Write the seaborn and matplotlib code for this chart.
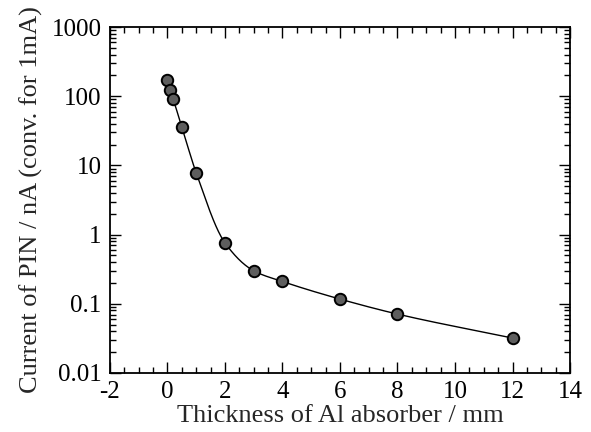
import numpy as np
import pandas as pd
import matplotlib
matplotlib.use('Agg')
import matplotlib.pyplot as plt
import seaborn as sns
from matplotlib.ticker import LogLocator, MultipleLocator, NullFormatter, FixedLocator, FixedFormatter

# data
thickness_mm = [0, 0.1, 0.2, 0.5, 1, 2, 3, 4, 6, 8, 12]
current_nA = [171, 123, 91, 36, 7.8, 0.76, 0.30, 0.21, 0.117, 0.071, 0.032]

y_ticks = [0.01, 0.1, 1, 10, 100, 1000]
y_tick_labels = ['0.01', '0.1', '1', '10', '100', '1000']

df = pd.DataFrame({'x': thickness_mm, 'y': current_nA})


def pchip_log(x, y, n=400):
    """Smooth monotone curve through the points, in log space."""
    x = np.asarray(x, float)
    ly = np.log10(np.asarray(y, float))
    h = np.diff(x)
    d = np.diff(ly) / h
    m = np.zeros_like(ly)
    for k in range(1, len(x) - 1):
        if d[k - 1] * d[k] > 0:
            w1 = 2 * h[k] + h[k - 1]
            w2 = h[k] + 2 * h[k - 1]
            m[k] = (w1 + w2) / (w1 / d[k - 1] + w2 / d[k])
    m[0] = d[0]
    m[-1] = d[-1]
    xs = np.linspace(x[0], x[-1], n)
    idx = np.clip(np.searchsorted(x, xs) - 1, 0, len(x) - 2)
    t = (xs - x[idx]) / h[idx]
    h00 = 2 * t**3 - 3 * t**2 + 1
    h10 = t**3 - 2 * t**2 + t
    h01 = -2 * t**3 + 3 * t**2
    h11 = t**3 - t**2
    ys = h00 * ly[idx] + h10 * h[idx] * m[idx] + h01 * ly[idx + 1] + h11 * h[idx] * m[idx + 1]
    return xs, 10 ** ys


sns.set_style('ticks')
plt.rcParams['font.family'] = ['Liberation Serif', 'DejaVu Serif']
plt.rcParams['axes.unicode_minus'] = False

fig = plt.figure(figsize=(5.91, 4.32), dpi=100)
ax = fig.add_axes([0.186, 0.1366, 0.7785, 0.8009])

xs, ys = pchip_log(thickness_mm, current_nA)
sns.lineplot(x=xs, y=ys, ax=ax, color='black', linewidth=1.0, sort=False)
sns.scatterplot(data=df, x='x', y='y', ax=ax, s=68, color='#5e5e5e',
                edgecolor='black', linewidth=1.4, zorder=3)

ax.set_yscale('log')
ax.set_xlim(-2, 14)
ax.set_ylim(0.01, 1000)

ax.xaxis.set_major_locator(MultipleLocator(2))
ax.xaxis.set_minor_locator(MultipleLocator(0.5))
ax.yaxis.set_major_locator(FixedLocator(y_ticks))
ax.yaxis.set_major_formatter(FixedFormatter(y_tick_labels))
ax.yaxis.set_minor_locator(LogLocator(base=10, subs=np.arange(2, 10)))
ax.yaxis.set_minor_formatter(NullFormatter())

ax.tick_params(which='both', direction='in', top=True, right=True,
               labelsize=18, colors='black', width=1.0)
ax.tick_params(which='major', length=8, pad=6)
ax.tick_params(which='minor', length=4)
for sp in ax.spines.values():
    sp.set_linewidth(1.3)
    sp.set_color('black')

ax.set_xlabel('Thickness of Al absorber / mm', fontsize=19, labelpad=1)
ax.set_ylabel('Current of PIN / nA (conv. for 1mA)', fontsize=19, labelpad=6)

fig.savefig('out.png', dpi=100)
